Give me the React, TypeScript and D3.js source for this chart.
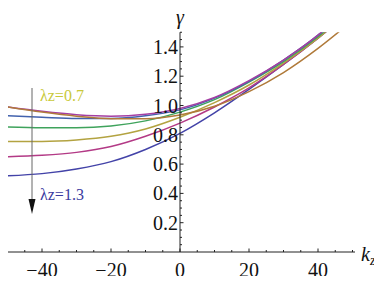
import React, { useEffect, useRef } from "react";
import * as d3 from "d3";

const kz = [-50, -40, -30, -20, -10, 0, 10, 20, 30, 40, 50];
// gamma values per lambda_z curve, bottom (1.3) to top (0.7) at left edge
const lambdas = ["1.3", "1.2", "1.1", "1.0", "0.9", "0.8", "0.7"];
const g13 = [0.52, 0.535, 0.567, 0.617, 0.70, 0.81, 0.95, 1.11, 1.28, 1.46, 1.65];
const g12 = [0.65, 0.66, 0.68, 0.72, 0.79, 0.88, 0.99, 1.12, 1.28, 1.46, 1.66];
const g11 = [0.755, 0.755, 0.765, 0.79, 0.84, 0.92, 1.02, 1.14, 1.29, 1.46, 1.66];
const g10 = [0.853, 0.848, 0.848, 0.86, 0.895, 0.955, 1.04, 1.16, 1.3, 1.47, 1.67];
const g09 = [0.93, 0.92, 0.912, 0.912, 0.93, 0.97, 1.05, 1.165, 1.31, 1.48, 1.69];
const g08 = [0.99, 0.96, 0.937, 0.927, 0.94, 0.98, 1.055, 1.17, 1.31, 1.48, 1.69];
const g07 = [0.99, 0.955, 0.927, 0.91, 0.91, 0.935, 0.995, 1.095, 1.225, 1.39, 1.58];
const series = [g13, g12, g11, g10, g09, g08, g07];
const colors = ["#4343a8", "#b33a86", "#b3a341", "#3fa35c", "#4262ad", "#a43fa3", "#b07a3a"];

const xMajor = [-40, -20, 0, 20, 40];
const yMajor = [0.2, 0.4, 0.6, 0.8, 1.0, 1.2, 1.4];

const FAMILY = '"Liberation Serif", "Tinos", "Nimbus Roman", "FreeSerif", "Times New Roman"';

export default function App() {
  const ref = useRef<SVGSVGElement | null>(null);
  useEffect(() => {
    if (!ref.current) return;
    const W = 382, H = 284;
    const svg = d3.select(ref.current);
    svg.selectAll("*").remove();
    const x = d3.scaleLinear().domain([-50, 50]).range([7.5, 352.5]);
    const y = d3.scaleLinear().domain([0, 1.5]).range([252, 32.25]);
    const line = d3.line<[number, number]>().x(d => x(d[0])).y(d => y(d[1])).curve(d3.curveMonotoneX);

    svg.append("defs").append("clipPath").attr("id", "pc")
      .append("rect").attr("x", 0).attr("y", y(1.5)).attr("width", W).attr("height", y(0) - y(1.5));

    const g = svg.append("g").attr("clip-path", "url(#pc)").attr("fill", "none");
    series.forEach((s, i) => {
      g.append("path")
        .attr("d", line(kz.map((k, j) => [k, s[j]] as [number, number])) || "")
        .attr("stroke", colors[i]).attr("stroke-width", 1.5).attr("data-lambda", lambdas[i]);
    });

    svg.append("line").attr("x1", 0).attr("x2", 355).attr("y1", y(0)).attr("y2", y(0)).attr("stroke", "#222");
    svg.append("line").attr("x1", x(0)).attr("x2", x(0)).attr("y1", y(0)).attr("y2", y(1.5)).attr("stroke", "#222");

    d3.range(-50, 51, 5).forEach(k => {
      svg.append("line").attr("x1", x(k)).attr("x2", x(k)).attr("y1", y(0))
        .attr("y2", y(0) - (xMajor.includes(k) ? 3.5 : 2)).attr("stroke", "#222");
    });
    d3.range(0.05, 1.5001, 0.05).forEach(v => {
      const maj = yMajor.some(m => Math.abs(m - v) < 1e-6);
      svg.append("line").attr("x1", x(0)).attr("x2", x(0) + (maj ? 3.5 : 2)).attr("y1", y(v)).attr("y2", y(v)).attr("stroke", "#222");
    });

    const txt = (tx: number, ty: number, s: string, size: number, anchor: string, fill = "#111", italic = false) =>
      svg.append("text").attr("x", tx).attr("y", ty).attr("font-size", size).attr("text-anchor", anchor)
        .attr("fill", fill).attr("font-style", italic ? "italic" : "normal")
        .style("font-family", FAMILY).text(s);

    xMajor.forEach(k => txt(x(k), 277, d3.format("d")(k), 20, "middle"));
    yMajor.forEach(v => txt(x(0) - 2, y(v) + 7, d3.format(".1f")(v), 20, "end"));
    txt(x(0), 24, "γ", 20, "middle", "#111", true);
    const kt = txt(361, 261, "k", 20, "start", "#111", true);
    kt.append("tspan").attr("font-size", 14).attr("dy", 4).text("z");

    svg.append("line").attr("x1", 32).attr("x2", 32).attr("y1", 88).attr("y2", 202).attr("stroke", "#666");
    svg.append("path").attr("d", "M28.5,199 L35.5,199 L32,214 Z").attr("fill", "#111");
    txt(40, 101, "λz=0.7", 16, "start", "#c9c93a");
    txt(40, 200, "λz=1.3", 16, "start", "#3a3aa0");
  }, []);
  return (
    <div style={{ margin: -8 }}>
      <svg ref={ref} width={382} height={284} style={{ display: "block" }} />
    </div>
  );
}
